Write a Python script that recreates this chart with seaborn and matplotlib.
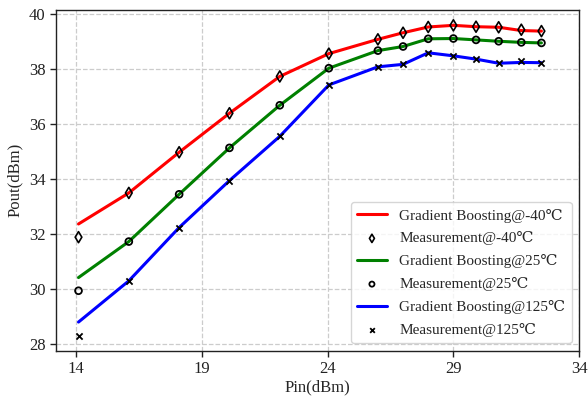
import matplotlib
matplotlib.use("Agg")
import matplotlib.pyplot as plt
import seaborn as sns
import pandas as pd

pin_meas = [14.1, 16.1, 18.1, 20.1, 22.1, 24.05, 26.0, 27.0, 28.0, 29.0, 29.9, 30.8, 31.7, 32.5]

meas_m40 = [31.88, 33.49, 34.97, 36.39, 37.73, 38.56, 39.08, 39.32, 39.53, 39.59, 39.54, 39.52, 39.43, 39.38]
meas_25 = [29.93, 31.72, 33.44, 35.13, 36.68, 38.03, 38.67, 38.82, 39.10, 39.11, 39.06, 39.01, 38.97, 38.95]
meas_125 = [28.30, 30.29, 32.23, 33.94, 35.55, 37.42, 38.08, 38.17, 38.59, 38.48, 38.36, 38.21, 38.29, 38.23]

gb_m40 = [32.36, 33.49, 34.97, 36.39, 37.73, 38.56, 39.08, 39.32, 39.53, 39.59, 39.54, 39.52, 39.40, 39.38]
gb_25 = [30.41, 31.72, 33.44, 35.13, 36.68, 38.03, 38.67, 38.82, 39.10, 39.11, 39.06, 39.01, 38.97, 38.95]
gb_125 = [28.79, 30.29, 32.23, 33.94, 35.55, 37.42, 38.08, 38.17, 38.59, 38.48, 38.36, 38.21, 38.24, 38.23]

temps = ["-40", "25", "125"]
colors = ["#ff0000", "#008000", "#0000ff"]
markers = ["d", "o", "x"]

sns.set_style("ticks")
plt.rcParams["font.family"] = ["Liberation Serif", "DejaVu Serif"]

fig = plt.figure(figsize=(5.88, 3.98), dpi=100)
ax = fig.add_axes([0.095, 0.119, 0.89, 0.856])

for t, c, m, gb, ms in zip(temps, colors, markers, [gb_m40, gb_25, gb_125], [meas_m40, meas_25, meas_125]):
    df_gb = pd.DataFrame({"Pin": pin_meas, "Pout": gb})
    df_ms = pd.DataFrame({"Pin": pin_meas, "Pout": ms})
    sns.lineplot(data=df_gb, x="Pin", y="Pout", color=c, linewidth=2.2, ax=ax,
                 label=f"Gradient Boosting@{t}\u2103", zorder=2)
    if m == "x":
        sns.scatterplot(data=df_ms, x="Pin", y="Pout", marker="x", color="black", s=20,
                        linewidth=1.3, ax=ax, label=f"Measurement@{t}\u2103", zorder=3)
    elif m == "d":
        sns.scatterplot(data=df_ms, x="Pin", y="Pout", marker="d", facecolor="none",
                        edgecolor="black", s=32, linewidth=1.2, ax=ax,
                        label=f"Measurement@{t}\u2103", zorder=3)
    else:
        sns.scatterplot(data=df_ms, x="Pin", y="Pout", marker="o", facecolor="none",
                        edgecolor="black", s=24, linewidth=1.3, ax=ax,
                        label=f"Measurement@{t}\u2103", zorder=3)

ax.set_xlim(13.2, 34)
ax.set_ylim(27.75, 40.15)
ax.set_xticks([14, 19, 24, 29, 34])
ax.set_yticks([28, 30, 32, 34, 36, 38, 40])
ax.grid(True, linestyle="--", color="#cccccc", linewidth=0.9)
ax.set_axisbelow(True)
for s in ax.spines.values():
    s.set_visible(True)
    s.set_color("#222222")
    s.set_linewidth(1.0)
ax.tick_params(direction="out", length=4, width=1, labelsize=12, colors="#222222")
ax.set_xlabel("Pin(dBm)", fontsize=12, labelpad=2)
ax.set_ylabel("Pout(dBm)", fontsize=12)
ax.legend(loc="lower right", fontsize=11, frameon=True, framealpha=0.8,
          edgecolor="#cccccc", handlelength=2.0, markerscale=0.75, labelspacing=0.58,
          borderaxespad=0.5)

fig.savefig("out.png", dpi=100)
